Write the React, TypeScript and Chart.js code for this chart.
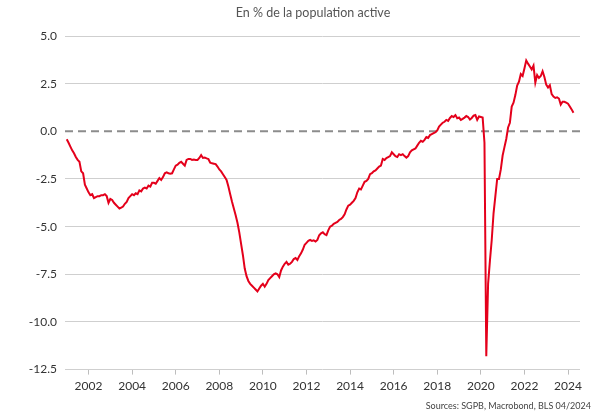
import React, { useEffect, useRef } from 'react';
import { Chart, registerables } from 'chart.js';

Chart.register(...registerables);

// Monthly values, January 2001 to April 2024 (% of labour force)
const startYear = 2001;
const monthlyValues: number[] = [
  -0.42, -0.6, -0.8, -1.0, -1.15, -1.35, -1.5, -1.6, -2.1, -2.2, -2.8, -3.0, // 2001
  -3.2, -3.35, -3.3, -3.5, -3.45, -3.4, -3.4, -3.35, -3.35, -3.3, -3.4, -3.75, // 2002
  -3.55, -3.6, -3.75, -3.85, -3.95, -4.05, -4.0, -3.95, -3.8, -3.7, -3.5, -3.4, // 2003
  -3.3, -3.35, -3.25, -3.3, -3.1, -3.15, -3.0, -2.95, -3.0, -2.85, -2.9, -2.7, // 2004
  -2.7, -2.75, -2.6, -2.45, -2.55, -2.4, -2.2, -2.15, -2.2, -2.22, -2.2, -2.0, // 2005
  -1.8, -1.75, -1.65, -1.6, -1.7, -1.8, -1.5, -1.45, -1.45, -1.5, -1.48, -1.5, // 2006
  -1.5, -1.4, -1.25, -1.4, -1.38, -1.42, -1.45, -1.65, -1.68, -1.7, -1.72, -1.85, // 2007
  -2.0, -2.1, -2.25, -2.4, -2.55, -2.9, -3.3, -3.7, -4.05, -4.4, -4.8, -5.3, // 2008
  -5.9, -6.5, -7.2, -7.6, -7.85, -8.0, -8.1, -8.2, -8.3, -8.4, -8.25, -8.1, // 2009
  -8.0, -8.15, -8.0, -7.8, -7.7, -7.6, -7.5, -7.45, -7.5, -7.65, -7.3, -7.1, // 2010
  -6.95, -6.85, -7.0, -6.95, -6.85, -6.7, -6.65, -6.75, -6.55, -6.4, -6.2, -5.95, // 2011
  -5.85, -5.75, -5.7, -5.75, -5.72, -5.78, -5.7, -5.45, -5.35, -5.3, -5.4, -5.45, // 2012
  -5.2, -5.0, -4.95, -4.85, -4.8, -4.75, -4.65, -4.6, -4.5, -4.35, -4.1, -3.9, // 2013
  -3.85, -3.75, -3.65, -3.5, -3.2, -3.0, -3.05, -2.85, -2.65, -2.6, -2.5, -2.25, // 2014
  -2.2, -2.1, -2.05, -1.95, -1.85, -1.8, -1.45, -1.5, -1.4, -1.35, -1.3, -1.1, // 2015
  -1.2, -1.3, -1.35, -1.2, -1.25, -1.2, -1.3, -1.38, -1.3, -1.1, -1.0, -0.95, // 2016
  -0.9, -0.75, -0.6, -0.5, -0.55, -0.45, -0.3, -0.35, -0.2, -0.15, -0.1, -0.05, // 2017
  0.05, 0.25, 0.35, 0.45, 0.5, 0.6, 0.55, 0.7, 0.8, 0.75, 0.85, 0.68, // 2018
  0.72, 0.6, 0.65, 0.72, 0.8, 0.75, 0.62, 0.7, 0.82, 0.85, 0.6, 0.78, // 2019
  0.75, 0.72, -0.6, -11.8, -8.0, -6.8, -5.7, -4.3, -3.4, -2.5, -2.5, -2.0, // 2020
  -1.27, -0.83, -0.4, 0.2, 0.45, 1.3, 1.5, 1.9, 2.4, 2.6, 3.0, 2.9, // 2021
  3.3, 3.72, 3.55, 3.4, 3.25, 3.45, 2.55, 2.95, 2.8, 2.9, 3.15, 2.85, // 2022
  2.45, 2.3, 2.42, 1.95, 1.82, 1.75, 1.78, 1.72, 1.4, 1.55, 1.55, 1.5, // 2023
  1.45, 1.3, 1.15, 0.97, // 2024
];

const xTickYears = [2002, 2004, 2006, 2008, 2010, 2012, 2014, 2016, 2018, 2020, 2022, 2024];
const yTickValues = [5, 2.5, 0, -2.5, -5, -7.5, -10, -12.5];
const zeroLineValues = [0, 0];
const xRange = [2000.92, 2024.55];
const titleText = 'En % de la population active';
const sourceText = 'Sources: SGPB, Macrobond, BLS 04/2024';

const FONT = 'Lato, "Noto Sans", sans-serif';

const textPlugin = {
  id: 'extraTexts',
  afterDraw(chart: any) {
    const ctx = chart.ctx;
    ctx.save();
    ctx.fillStyle = '#555555';
    ctx.font = `12.5px ${FONT}`;
    ctx.textAlign = 'center';
    ctx.textBaseline = 'middle';
    ctx.fillText(titleText, 313, 13);
    ctx.font = `9px ${FONT}`;
    ctx.textAlign = 'right';
    ctx.fillStyle = '#444444';
    ctx.fillText(sourceText, 591, 406);
    ctx.restore();
  },
};

export default function App() {
  const canvasRef = useRef<HTMLCanvasElement | null>(null);

  useEffect(() => {
    document.body.style.margin = '0';
    const canvas = canvasRef.current;
    if (!canvas) return;

    const lineData = monthlyValues.map((v, i) => ({ x: startYear + i / 12, y: v }));
    const zeroData = zeroLineValues.map((v, i) => ({ x: xRange[i], y: v }));

    const chart = new Chart(canvas, {
      type: 'line',
      data: {
        datasets: [
          {
            data: lineData,
            borderColor: '#e4001b',
            borderWidth: 2,
            pointRadius: 0,
            tension: 0,
            fill: false,
          },
          {
            data: zeroData,
            borderColor: '#8c8c8c',
            borderWidth: 2,
            borderDash: [8, 5],
            pointRadius: 0,
            fill: false,
          },
        ],
      },
      options: {
        animation: false,
        responsive: false,
        devicePixelRatio: 1,
        layout: { padding: { top: 36, right: 16, bottom: 15, left: 0 } },
        plugins: {
          legend: { display: false },
          tooltip: { enabled: false },
          title: { display: false },
        },
        scales: {
          x: {
            type: 'linear',
            min: xRange[0],
            max: xRange[1],
            afterBuildTicks: (scale: any) => {
              scale.ticks = xTickYears.map((v) => ({ value: v }));
            },
            ticks: {
              autoSkip: false,
              maxRotation: 0,
              padding: 4,
              color: '#333333',
              font: { family: FONT, size: 12 },
              callback: (v: any) => String(v),
            },
            grid: {
              drawOnChartArea: false,
              drawTicks: true,
              tickLength: 5,
              color: '#bdbdbd',
            },
            border: { display: false },
          },
          y: {
            min: -12.5,
            max: 5,
            afterBuildTicks: (scale: any) => {
              scale.ticks = yTickValues.map((v) => ({ value: v }));
            },
            afterFit: (scale: any) => {
              scale.width = 65;
            },
            ticks: {
              padding: 8,
              color: '#333333',
              font: { family: FONT, size: 12 },
              callback: (v: any) => Number(v).toFixed(1),
            },
            grid: {
              drawTicks: false,
              color: (ctx: any) => (ctx.tick && ctx.tick.value === 0 ? 'rgba(0,0,0,0)' : '#cfcfcf'),
              lineWidth: 1,
            },
            border: { display: false },
          },
        },
      },
      plugins: [textPlugin],
    });

    return () => chart.destroy();
  }, []);

  return (
    <div style={{ width: 596, height: 412 }}>
      <canvas ref={canvasRef} width={596} height={412} />
    </div>
  );
}
